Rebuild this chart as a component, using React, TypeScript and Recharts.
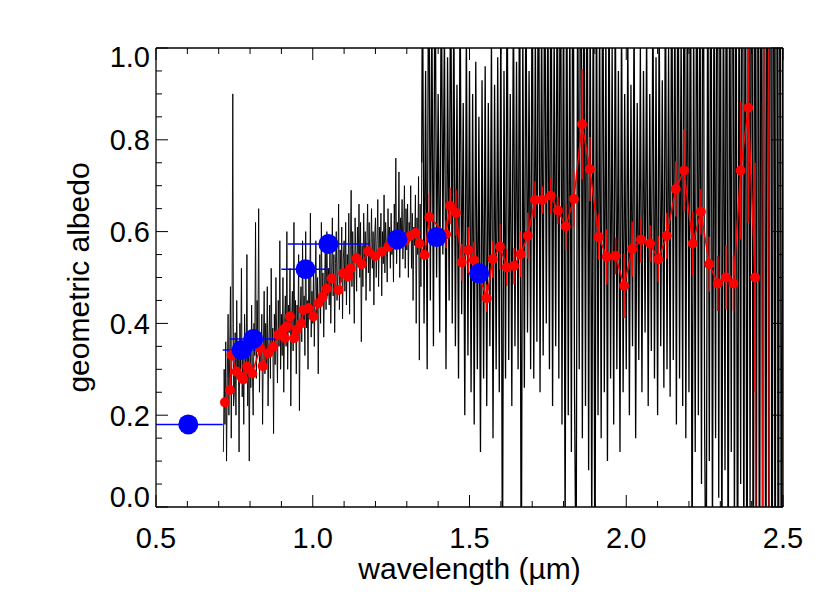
import React from 'react';
import { ComposedChart, Line, Scatter, XAxis, YAxis, ErrorBar } from 'recharts';

const FONT = '"Liberation Sans", Arial, Helvetica, sans-serif';
const FS_TICK = 29;
const FS_TITLE = 30;

// axis ticks
const xTicks = [0.5, 0.6, 0.7, 0.8, 0.9, 1.0, 1.1, 1.2, 1.3, 1.4, 1.5, 1.6, 1.7, 1.8, 1.9, 2.0, 2.1, 2.2, 2.3, 2.4, 2.5];
const yTicks = [0, 0.05, 0.1, 0.15, 0.2, 0.25, 0.3, 0.35, 0.4, 0.45, 0.5, 0.55, 0.6, 0.65, 0.7, 0.75, 0.8, 0.85, 0.9, 0.95, 1.0];

// spectrum (black), part A: visible channel, fine grid
const specAStart = 0.715;
const specAStep = 0.0025;
const specAAlbedo = [
  0.12, 0.30, 0.18, 0.36, 0.10, 0.28, 0.42, 0.20, 0.33, 0.48, 0.15, 0.40, 0.90, 0.22,
  0.25, 0.38, 0.20, 0.45, 0.28, 0.35, 0.12, 0.40, 0.30, 0.52, 0.24, 0.36, 0.18, 0.42, 0.33, 0.27, 0.55, 0.22, 0.38, 0.10,
  0.35, 0.26, 0.44, 0.30, 0.20, 0.40, 0.33, 0.62, 0.28, 0.45, 0.36, 0.65, 0.25, 0.38, 0.30, 0.42, 0.18, 0.35, 0.47, 0.29,
  0.40, 0.30, 0.48, 0.22, 0.36, 0.44, 0.28, 0.52, 0.34, 0.39, 0.16, 0.42, 0.31, 0.50, 0.37, 0.27, 0.45, 0.35, 0.58, 0.30,
  0.42, 0.33, 0.50, 0.25, 0.40, 0.46, 0.35, 0.60, 0.30, 0.44, 0.38, 0.52, 0.22, 0.41, 0.47, 0.34, 0.62, 0.36, 0.45, 0.29,
  0.44, 0.37, 0.55, 0.21, 0.42, 0.48, 0.36, 0.58, 0.40, 0.46, 0.33, 0.60, 0.39, 0.45, 0.30, 0.52, 0.41, 0.64, 0.37, 0.47,
  0.40, 0.52, 0.35, 0.47, 0.58, 0.42, 0.50, 0.29, 0.46, 0.55, 0.40, 0.62, 0.44, 0.51, 0.37, 0.48, 0.57, 0.43, 0.60, 0.46,
  0.52, 0.44, 0.58, 0.40, 0.50, 0.63, 0.46, 0.55, 0.38, 0.53, 0.60, 0.45, 0.51, 0.66, 0.43, 0.56, 0.49, 0.61, 0.41, 0.54,
  0.58, 0.47, 0.62, 0.44, 0.55, 0.50, 0.64, 0.42, 0.57, 0.69, 0.48, 0.60, 0.52, 0.40, 0.63, 0.55, 0.47, 0.61, 0.53, 0.66,
  0.50, 0.62, 0.36, 0.57, 0.48, 0.64, 0.53, 0.60, 0.45, 0.58, 0.66, 0.51, 0.62, 0.47, 0.56, 0.65, 0.52, 0.60, 0.44, 0.59,
  0.63, 0.50, 0.58, 0.67, 0.48, 0.61, 0.55, 0.64, 0.46, 0.60, 0.53, 0.68, 0.51, 0.62, 0.57, 0.49, 0.65, 0.56, 0.61, 0.52,
  0.64, 0.55, 0.60, 0.49, 0.66, 0.58, 0.76, 0.53, 0.62, 0.57, 0.73, 0.50, 0.63, 0.59, 0.67, 0.54, 0.61, 0.70, 0.52, 0.65,
  0.56, 0.66, 0.50, 0.62, 0.58, 0.70, 0.52, 0.64, 0.45, 0.61, 0.57, 0.68, 0.40, 0.63, 0.55, 0.72, 0.32, 0.66, 0.48, 0.75,
];

// spectrum (black), part B: near-infrared channel
const specBStart = 1.35;
const specBStep = 0.005;
const specBAlbedo = [
  1.20, 0.40, 0.95, 0.30, 1.40, 0.45, 1.10, 0.35, 1.30, 0.50,
  0.90, 0.38, 1.20, 0.55, 1.05, 0.30, 0.98, 0.45, 1.25, 0.40,
  1.10, 0.35, 0.92, 0.28, 1.15, 0.42, 0.88, 0.20, 1.05, 0.33,
  0.95, 0.25, 0.90, 0.18, 0.97, 0.30, 0.85, 0.12, 0.93, 0.28,
  0.96, 0.22, 0.88, 0.35, 1.02, 0.15, 0.92, 0.30, 0.98, 0.25,
  1.10, -0.20, 0.95, 0.28, 1.20, 0.32, 0.90, 0.22, 1.15, 0.35,
  0.97, 0.30, 1.30, -0.30, 1.05, 0.26, 1.20, 0.38, 0.95, 0.30,
  1.25, 0.28, 1.05, 0.36, 1.40, 0.25, 1.10, 0.33, 1.30, 0.40,
  1.15, 0.30, 1.35, 0.22, 1.05, 0.35, 1.25, 0.28, 1.45, 0.18,
  1.20, -0.10, 1.30, 0.20, 1.10, 0.12, 1.50, 0.25, -0.20, 1.20,
  0.30, 1.60, 0.15, 1.25, 0.22, 1.40, 0.08, 1.15, -0.10, 1.30,
  -0.30, 1.20, 0.20, 1.10, 0.15, 1.35, 0.25, 1.05, 0.10, 1.20,
  0.28, 1.00, 0.18, 1.15, 0.30, 0.95, 0.12, 1.10, 0.25, 0.90,
  0.30, 1.05, 0.20, 0.92, 0.35, 1.10, 0.15, 0.88, 0.32, 1.00,
  0.25, 0.95, 0.38, 1.05, 0.22, 0.90, 0.34, 1.15, 0.28, 0.98,
  0.20, 1.10, 0.35, 0.93, 0.26, 1.20, 0.30, 1.00, 0.24, 1.30,
  0.32, 1.15, 0.18, 1.40, 0.28, 1.05, 0.22, 1.50, 0.15, 1.20,
  0.25, 1.35, -0.20, 1.10, 0.12, 1.45, 0.20, 1.25, 0.05, 1.60,
  0.18, -0.30, 1.30, 0.10, 1.50, -0.10, 1.20, 0.15, 1.70, 0.02,
  1.40, -0.20, 1.25, 0.08, 1.60, -0.30, 1.35, 0.12, 1.80, -0.10,
  1.50, -0.40, 1.30, 0.05, 1.90, -0.20, 1.60, -0.50, 1.70, 0.00,
  2.00, -0.50, 1.80, -0.30, 2.20, -0.60, 1.90, -0.40, 2.50, -0.80,
  2.20, -0.60, 2.60, -0.90, 2.30, -0.70, 2.80, -1.00, 2.40, -0.80,
  1.50,
];

// binned reflectance (red)
const redWavelength = [
  0.720, 0.736, 0.741, 0.757, 0.773, 0.778, 0.791, 0.794, 0.807, 0.832,
  0.840, 0.858, 0.874, 0.890, 0.906, 0.911, 0.917, 0.927, 0.941, 0.949,
  0.963, 0.970, 0.986, 1.002, 1.018, 1.032, 1.045, 1.060, 1.082, 1.097,
  1.113, 1.121, 1.140, 1.156, 1.177, 1.199, 1.220, 1.241, 1.266, 1.294,
  1.312, 1.328, 1.341, 1.357,
  1.372, 1.425, 1.438, 1.457, 1.475, 1.496,
  1.514, 1.555, 1.574, 1.597, 1.619, 1.642, 1.663, 1.686, 1.709, 1.732,
  1.759, 1.782, 1.807, 1.833, 1.859, 1.884, 1.912, 1.938, 1.966, 1.993,
  2.019, 2.047, 2.076, 2.102, 2.129, 2.158, 2.184, 2.212, 2.238, 2.265,
  2.292, 2.318, 2.342, 2.365, 2.389, 2.411, 2.425, 2.452, 2.460,
];
const redAlbedo = [
  0.228, 0.255, 0.331, 0.295, 0.283, 0.278, 0.306, 0.300, 0.291, 0.346,
  0.307, 0.335, 0.349, 0.375, 0.386, 0.368, 0.393, 0.415, 0.368, 0.386,
  0.400, 0.429, 0.433, 0.415, 0.444, 0.458, 0.476, 0.498, 0.473, 0.509,
  0.502, 0.520, 0.542, 0.529, 0.557, 0.547, 0.556, 0.567, 0.571, 0.580,
  0.591, 0.597, 0.574, 0.549,
  0.632, 0.594, 0.656, 0.641, 0.533, 0.560,
  0.538, 0.455, 0.540, 0.567, 0.522, 0.525, 0.551, 0.591, 0.669, 0.669,
  0.678, 0.646, 0.611, 0.671, 0.834, 0.736, 0.588, 0.545, 0.547, 0.482,
  0.562, 0.582, 0.574, 0.540, 0.591, 0.693, 0.733, 0.574, 0.643, 0.529,
  0.487, 0.500, 0.487, 0.733, 0.870, 0.500, -3.000, 5.000, -5.000,
];
// lower / upper error
const redErrLow = [
  0.01, 0.01, 0.01, 0.01, 0.01, 0.01, 0.01, 0.01, 0.01, 0.01,
  0.01, 0.01, 0.01, 0.01, 0.01, 0.01, 0.01, 0.01, 0.01, 0.01,
  0.01, 0.01, 0.01, 0.01, 0.01, 0.01, 0.01, 0.01, 0.01, 0.01,
  0.01, 0.01, 0.01, 0.01, 0.01, 0.01, 0.01, 0.01, 0.01, 0.01,
  0.01, 0.01, 0.01, 0.01,
  0.05, 0.03, 0.04, 0.05, 0.04, 0.05,
  0.04, 0.03, 0.04, 0.05, 0.04, 0.04, 0.05, 0.05, 0.04, 0.03,
  0.04, 0.03, 0.05, 0.06, 0.12, 0.07, 0.05, 0.06, 0.04, 0.07,
  0.06, 0.05, 0.04, 0.05, 0.05, 0.06, 0.09, 0.07, 0.05, 0.06,
  0.06, 0.07, 0.06, 0.15, 0.25, 0.25, 0, 0, 0,
];
const redErrHigh = [
  0.01, 0.01, 0.01, 0.01, 0.01, 0.01, 0.01, 0.01, 0.01, 0.01,
  0.01, 0.01, 0.01, 0.01, 0.01, 0.01, 0.01, 0.01, 0.01, 0.01,
  0.01, 0.01, 0.01, 0.01, 0.01, 0.01, 0.01, 0.01, 0.01, 0.01,
  0.01, 0.01, 0.01, 0.01, 0.01, 0.01, 0.01, 0.01, 0.01, 0.01,
  0.01, 0.01, 0.01, 0.01,
  0.05, 0.03, 0.04, 0.05, 0.04, 0.05,
  0.04, 0.03, 0.04, 0.05, 0.04, 0.04, 0.05, 0.05, 0.04, 0.03,
  0.04, 0.03, 0.05, 0.06, 0.12, 0.07, 0.05, 0.06, 0.04, 0.07,
  0.06, 0.05, 0.04, 0.05, 0.05, 0.06, 0.09, 0.07, 0.05, 0.06,
  0.06, 0.07, 0.06, 0.15, 0.13, 0.25, 0, 0, 0,
];

// photometry (blue) with filter half-widths
const blueWavelength = [0.603, 0.773, 0.810, 0.977, 1.050, 1.270, 1.395, 1.531];
const blueAlbedo = [0.180, 0.342, 0.366, 0.518, 0.573, 0.583, 0.588, 0.509];
const blueWidthLeft = [0.103, 0.060, 0.075, 0.077, 0.130, 0, 0, 0];
const blueWidthRight = [0.110, 0.060, 0.075, 0.077, 0.130, 0, 0, 0];

const specAData = specAAlbedo.map((y, i) => ({ x: +(specAStart + i * specAStep).toFixed(4), y }));
const specBData = [
  specAData[specAData.length - 1],
  ...specBAlbedo.map((y, i) => ({ x: +(specBStart + i * specBStep).toFixed(4), y })),
];
const redData = redWavelength.map((x, i) => ({ x, y: redAlbedo[i], err: [redErrLow[i], redErrHigh[i]] }));
const blueData = blueWavelength.map((x, i) => ({ x, y: blueAlbedo[i], xerr: [blueWidthLeft[i], blueWidthRight[i]] }));

const isMajorX = (v: number) => Math.abs(v * 2 - Math.round(v * 2)) < 1e-6;
const isMajorY = (v: number) => Math.abs(v * 5 - Math.round(v * 5)) < 1e-6;
const MAJOR = 12;
const MINOR = 6;

const BottomTick = (props: any) => {
  const { x, y, payload } = props;
  const v = payload.value;
  const major = isMajorX(v);
  return (
    <g>
      <line x1={x} x2={x} y1={y} y2={y - (major ? MAJOR : MINOR)} stroke="#000" strokeWidth={1} />
      {major && (
        <text x={x} y={y + 41} textAnchor="middle" fontSize={FS_TICK} fontFamily={FONT} fill="#000">
          {v.toFixed(1)}
        </text>
      )}
    </g>
  );
};

const TopTick = (props: any) => {
  const { x, y, payload } = props;
  const major = isMajorX(payload.value);
  return <line x1={x} x2={x} y1={y} y2={y + (major ? MAJOR : MINOR)} stroke="#000" strokeWidth={1} />;
};

const LeftTick = (props: any) => {
  const { x, y, payload } = props;
  const v = payload.value;
  const major = isMajorY(v);
  const shift = v < 0.01 ? -10 : v > 0.99 ? 9 : 0;
  return (
    <g>
      <line x1={x} x2={x + (major ? MAJOR : MINOR)} y1={y} y2={y} stroke="#000" strokeWidth={1} />
      {major && (
        <text x={x - 6} y={y + shift} dy="0.36em" textAnchor="end" fontSize={FS_TICK} fontFamily={FONT} fill="#000">
          {v.toFixed(1)}
        </text>
      )}
    </g>
  );
};

const RightTick = (props: any) => {
  const { x, y, payload } = props;
  const major = isMajorY(payload.value);
  return <line x1={x} x2={x - (major ? MAJOR : MINOR)} y1={y} y2={y} stroke="#000" strokeWidth={1} />;
};

const XTitle = (props: any) => {
  const vb = props.viewBox || { x: 0, y: 0, width: 0, height: 0 };
  return (
    <text x={vb.x + vb.width / 2} y={vb.y + 72} textAnchor="middle" fontSize={FS_TITLE} fontFamily={FONT} fill="#000">
      wavelength (µm)
    </text>
  );
};

const YTitle = (props: any) => {
  const vb = props.viewBox || { x: 0, y: 0, width: 0, height: 0 };
  const cx = vb.x + 70;
  const cy = vb.y + vb.height / 2;
  return (
    <text
      x={cx}
      y={cy}
      dy="0.36em"
      transform={`rotate(-90 ${cx} ${cy})`}
      textAnchor="middle"
      fontSize={FS_TITLE}
      fontFamily={FONT}
      fill="#000"
    >
      geometric albedo
    </text>
  );
};

const BlueDot = (props: any) => {
  const { cx, cy } = props;
  if (cx == null || cy == null) return null;
  return <circle cx={cx} cy={cy} r={10} fill="#0000ff" stroke="none" />;
};

export default function App() {
  return (
    <ComposedChart
      width={814}
      height={590}
      margin={{ top: 39, right: 38, bottom: 0, left: 0 }}
      style={{ background: '#fff' }}
    >
      <XAxis
        xAxisId={0}
        dataKey="x"
        type="number"
        domain={[0.5, 2.5]}
        allowDataOverflow
        ticks={xTicks}
        interval={0}
        tickSize={0}
        tickMargin={0}
        tick={<BottomTick />}
        height={91}
        axisLine={{ stroke: '#000', strokeWidth: 1.3 }}
        label={{ content: <XTitle /> }}
      />
      <XAxis
        xAxisId="top"
        orientation="top"
        dataKey="x"
        type="number"
        domain={[0.5, 2.5]}
        allowDataOverflow
        ticks={xTicks}
        interval={0}
        tickSize={0}
        tickMargin={0}
        tick={<TopTick />}
        height={1}
        axisLine={{ stroke: '#000', strokeWidth: 1.3 }}
      />
      <YAxis
        yAxisId={0}
        dataKey="y"
        type="number"
        domain={[0, 1]}
        allowDataOverflow
        ticks={yTicks}
        interval={0}
        tickSize={0}
        tickMargin={0}
        tick={<LeftTick />}
        width={148}
        axisLine={{ stroke: '#000', strokeWidth: 1.3 }}
        label={{ content: <YTitle /> }}
      />
      <YAxis
        yAxisId="right"
        orientation="right"
        dataKey="y"
        type="number"
        domain={[0, 1]}
        allowDataOverflow
        ticks={yTicks}
        interval={0}
        tickSize={0}
        tickMargin={0}
        tick={<RightTick />}
        width={1}
        axisLine={{ stroke: '#000', strokeWidth: 1.3 }}
      />
      <Line
        data={specAData}
        dataKey="y"
        type="linear"
        stroke="#000"
        strokeWidth={0.9}
        dot={false}
        activeDot={false}
        isAnimationActive={false}
      />
      <Line
        data={specBData}
        dataKey="y"
        type="linear"
        stroke="#000"
        strokeWidth={1.3}
        dot={false}
        activeDot={false}
        isAnimationActive={false}
      />
      <Line
        data={redData}
        dataKey="y"
        type="linear"
        stroke="#ff0000"
        strokeWidth={1.5}
        dot={{ r: 5, fill: '#ff0000', stroke: '#ff0000', strokeWidth: 0 }}
        activeDot={false}
        isAnimationActive={false}
      >
        <ErrorBar dataKey="err" direction="y" width={0} stroke="#ff0000" strokeWidth={1.5} />
      </Line>
      <Scatter data={blueData} dataKey="y" shape={<BlueDot />} isAnimationActive={false}>
        <ErrorBar dataKey="xerr" direction="x" width={0} stroke="#0000ff" strokeWidth={1.5} />
      </Scatter>
    </ComposedChart>
  );
}
